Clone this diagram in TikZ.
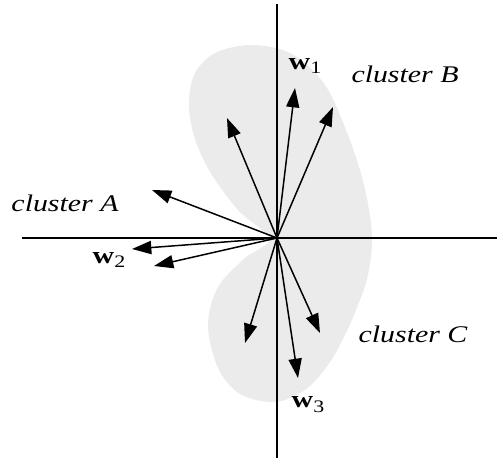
\documentclass[tikz,border=0pt]{standalone}
\usepackage{fontspec}
\setmainfont{Liberation Serif}
\usetikzlibrary{arrows.meta}
\tikzset{
  ax/.style    = {draw=black, line width=1.1pt},
  vec/.style   = {-{Triangle[length=11pt,width=7.5pt]}, line width=0.85pt},
  blob/.style  = {fill=black!8, draw=none},
  lbl/.style   = {inner sep=0pt, font=\fontsize{13.6}{16}\selectfont\itshape},
  wlbl/.style  = {inner sep=0pt, font=\fontsize{13.6}{16}\selectfont},
}
\newcommand{\wvec}[1]{\scalebox{1.25}[1]{\textbf{w}\raisebox{-0.45ex}{\fontsize{10}{12}\selectfont #1}}}
\newcommand{\clname}[1]{\scalebox{1.25}[1]{cluster #1}}

\begin{document}
\begin{tikzpicture}[x=0.02cm, y=-0.02cm]
\useasboundingbox (0,0) rectangle (501,464);

%% ---- shaded region ---------------------------------------------------
\fill[blob] plot[smooth cycle, tension=0.55] coordinates {
  (269,239) (238,210) (212,175) (196,142) (189,108) (194,75) (215,53)
  (252,45) (292,54) (325,85) (348,135) (364,185) (372,235) (368,275)
  (358,305) (345,335) (328,365) (305,390) (275,402) (240,394) (218,368)
  (208,325) (218,287) (245,258)};

%% ---- axes ------------------------------------------------------------
\coordinate (o)   at (277,238);
\coordinate (xl)  at (22,238);
\coordinate (xr)  at (497,238);
\coordinate (yt)  at (277,4);
\coordinate (yb)  at (277,458);
\draw[ax] (xl) -- (xr);
\draw[ax] (yt) -- (yb);

%% ---- vectors ---------------------------------------------------------
\coordinate (a1) at (152,190);
\coordinate (b1) at (227,118);
\coordinate (b2) at (295,88);
\coordinate (b3) at (333,107);
\coordinate (d1) at (132,249);
\coordinate (d2) at (154,266);
\coordinate (c1) at (245,343);
\coordinate (c2) at (298,378);
\coordinate (c3) at (320,333);

\draw[vec] (o) -- (a1);
\draw[vec] (o) -- (b1);
\draw[vec] (o) -- (b2);
\draw[vec] (o) -- (b3);
\draw[vec] (o) -- (d1);
\draw[vec] (o) -- (d2);
\draw[vec] (o) -- (c1);
\draw[vec] (o) -- (c2);
\draw[vec] (o) -- (c3);

%% ---- labels ----------------------------------------------------------
\node[lbl] (clA) at (65,203) {\clname{A}};
\node[lbl] (clB) at (405,74) {\clname{B}};
\node[lbl] (clC) at (413,334) {\clname{C}};
\node[wlbl] (w1) at (305,66) {\wvec{1}};
\node[wlbl] (w2) at (109,260) {\wvec{2}};
\node[wlbl] (w3) at (308,405) {\wvec{3}};
\end{tikzpicture}
\end{document}
